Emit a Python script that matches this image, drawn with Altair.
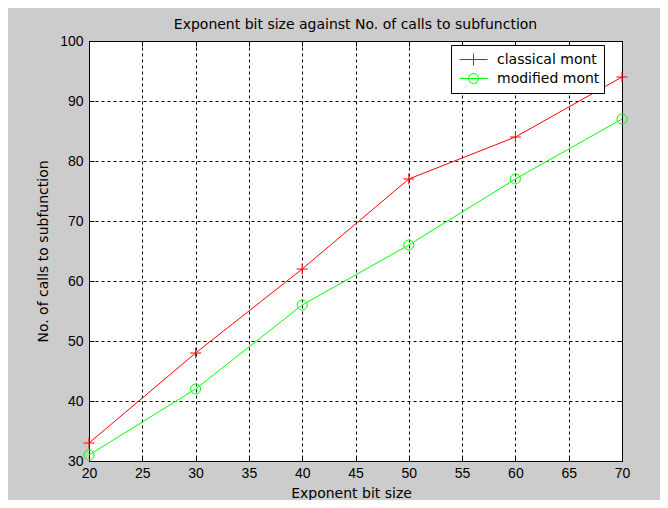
import altair as alt
import pandas as pd

bits = [20, 30, 40, 50, 60, 70]
classical = [33, 48, 62, 77, 84, 94]
modified = [31, 42, 56, 66, 77, 87]
series_names = ["classical mont", "modified mont"]
series_colors = ["#ff0000", "#00ff00"]
x_ticks = [20, 25, 30, 35, 40, 45, 50, 55, 60, 65, 70]
y_ticks = [30, 40, 50, 60, 70, 80, 90, 100]

df = pd.DataFrame({
    "bits": bits + bits,
    "calls": classical + modified,
    "series": [series_names[0]] * len(bits) + [series_names[1]] * len(bits),
})

TICKFONT = "Liberation Sans"
FONT = "DejaVu Sans"
xs = alt.Scale(domain=[20, 70], nice=False, zero=False)
ys = alt.Scale(domain=[30, 100], nice=False, zero=False)

main_x = alt.Axis(orient="bottom", values=x_ticks, title="Exponent bit size",
                  grid=True, gridColor="black", gridDash=[3, 3], gridWidth=1, gridOpacity=1,
                  ticks=False, domain=False, labelPadding=5, labelFlush=False,
                  labelOverlap=False, titleY=36, titleX=262, titleBaseline="alphabetic")
main_y = alt.Axis(orient="left", values=y_ticks, title="No. of calls to subfunction",
                  grid=True, gridColor="black", gridDash=[3, 3], gridWidth=1, gridOpacity=1,
                  ticks=False, domain=False, labelPadding=6, labelFlush=False,
                  labelOverlap=False, titleX=-46, titleY=210, titleBaseline="middle",
                  titleAngle=270)


def tick_axis(orient, vals):
    return alt.Axis(orient=orient, values=vals, labels=False, domain=False, grid=False,
                    ticks=True, tickSize=5, offset=-5, tickColor="black", title=None)


PLUS = "M-1,0H1M0,-1V1"
PLUS_LEG = "M-2,0H2M0,-0.857V0.857"
CIRC_LEG = "M-2,0H2M0.714,0A0.714,0.714,0,1,1,-0.714,0A0.714,0.714,0,1,1,0.714,0"

base = alt.Chart(df)
c_only = base.transform_filter(alt.datum.series == series_names[0])
m_only = base.transform_filter(alt.datum.series == series_names[1])

line_c = c_only.mark_line(color=series_colors[0], strokeWidth=1).encode(
    x=alt.X("bits:Q", scale=xs, axis=main_x),
    y=alt.Y("calls:Q", scale=ys, axis=main_y),
)
line_m = m_only.mark_line(color=series_colors[1], strokeWidth=1).encode(
    x=alt.X("bits:Q", scale=xs, axis=None),
    y=alt.Y("calls:Q", scale=ys, axis=None),
)
pts_c = c_only.mark_point(shape=PLUS, size=121, filled=False, strokeWidth=1,
                          color=series_colors[0], opacity=1).encode(
    x=alt.X("bits:Q", scale=xs, axis=tick_axis("top", x_ticks)),
    y=alt.Y("calls:Q", scale=ys, axis=tick_axis("right", y_ticks)),
)
pts_m = m_only.mark_point(shape="circle", size=100, filled=False, strokeWidth=1,
                          color=series_colors[1], opacity=1).encode(
    x=alt.X("bits:Q", scale=xs, axis=tick_axis("bottom", x_ticks)),
    y=alt.Y("calls:Q", scale=ys, axis=tick_axis("left", y_ticks)),
)

common_leg = dict(orient="none", legendX=362, padding=7,
                  symbolSize=196, symbolOffset=8, labelOffset=16,
                  labelFont=FONT, labelFontSize=14, labelColor="black",
                  symbolStrokeWidth=1, symbolFillColor="transparent", symbolOpacity=1)
leg_c = alt.Legend(title=" " * 33, titleOrient="bottom", titleFont=FONT, titleFontSize=14,
                   titlePadding=5, titleAlign="left", legendY=4,
                   fillColor="white", strokeColor="black", cornerRadius=0,
                   symbolStrokeColor=series_colors[0], **common_leg)
leg_m = alt.Legend(title=None, legendY=23, symbolStrokeColor=series_colors[1], **common_leg)

legend_c = c_only.transform_filter("false").mark_point(
    filled=False, strokeWidth=1, opacity=1, color=series_colors[0]).encode(
    x=alt.X("bits:Q", scale=xs, axis=None),
    y=alt.Y("calls:Q", scale=ys, axis=None),
    shape=alt.Shape("series:N", scale=alt.Scale(domain=[series_names[0]], range=[PLUS_LEG]),
                    legend=leg_c),
)
legend_m = m_only.transform_filter("false").mark_point(
    filled=False, strokeWidth=1, opacity=1, color=series_colors[1]).encode(
    x=alt.X("bits:Q", scale=xs, axis=None),
    y=alt.Y("calls:Q", scale=ys, axis=None),
    shape=alt.Shape("series:N", scale=alt.Scale(domain=[series_names[1]], range=[CIRC_LEG]),
                    legend=leg_m),
)

chart = alt.layer(line_c, line_m, pts_c, pts_m, legend_c, legend_m).resolve_axis(
    x="independent", y="independent"
).resolve_scale(
    shape="independent"
).properties(
    width=533, height=420,
    padding={"left": 81, "top": 33, "right": 38, "bottom": 39},
    autosize=alt.AutoSizeParams(type="none"),
    background="#cccccc",
    title=alt.TitleParams("Exponent bit size against No. of calls to subfunction",
                          font=FONT, fontSize=14, fontWeight="normal", color="black",
                          anchor="middle", offset=2),
).configure_view(
    fill="white", stroke="black", strokeWidth=1
).configure_axis(
    labelFont=TICKFONT, labelFontSize=14, labelColor="black",
    titleFont=FONT, titleFontSize=14, titleFontWeight="normal", titleColor="black",
)

chart.save("out.html", embed_options={"renderer": "svg", "actions": False})
